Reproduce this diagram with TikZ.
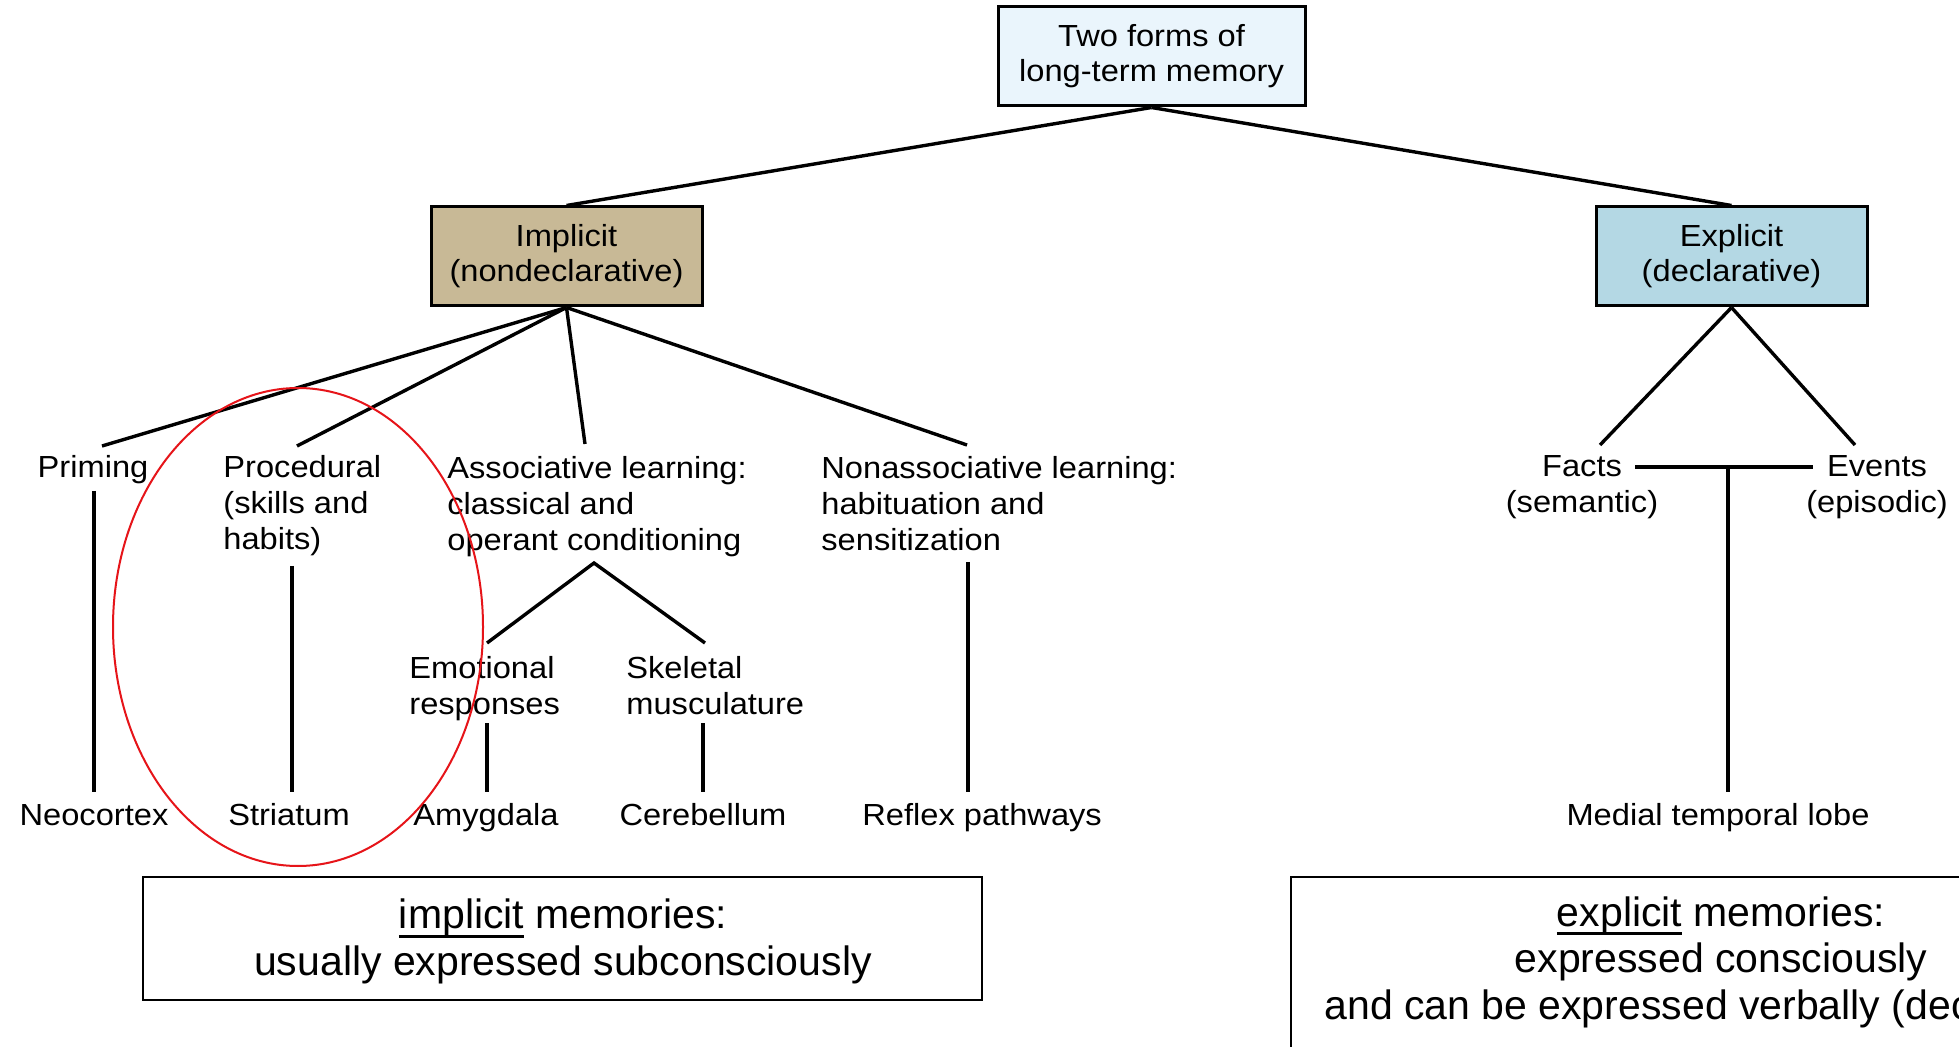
\documentclass[tikz,border=0pt]{standalone}
\usepackage{fontspec}
\setmainfont{Liberation Sans}
\newfontfamily\diagfont{Liberation Sans}[FakeStretch=1.07]
\definecolor{topfill}{RGB}{234,245,252}
\definecolor{implfill}{RGB}{200,185,150}
\definecolor{explfill}{RGB}{180,216,228}
\definecolor{ellred}{RGB}{230,20,25}
\newcommand\myul[1]{\setbox0\hbox{#1}\rlap{\rule[-4.6pt]{\wd0}{1.5pt}}\box0\relax}
\begin{document}
\begin{tikzpicture}[x=0.5pt,y=-0.5pt,
  catbox/.style={draw=black, line width=1.5pt, align=center, inner sep=0pt,
    minimum width=135.5pt, minimum height=49.5pt,
    font=\diagfont\fontsize{15.25pt}{17.5pt}\selectfont},
  lbl/.style={inner sep=0pt, font=\diagfont\fontsize{15.25pt}{18pt}\selectfont},
  conn/.style={line width=1.7pt},
  membox/.style={draw=black, line width=1pt, inner sep=0pt},
  memtext/.style={inner sep=0pt, align=center, font=\fontsize{20.5pt}{23.25pt}\selectfont}
]
\useasboundingbox (0,0) rectangle (1959,1047);
\clip (0,0) rectangle (1959,1047);
\fill[white] (0,0) rectangle (1959,1047);

% category boxes
\node[catbox, fill=topfill, minimum width=153.5pt] (top) at (1151.5,56.5) {Two forms of\\long-term memory};
\node[catbox, fill=implfill] (impl) at (566.5,256.5) {Implicit\\(nondeclarative)};
\node[catbox, fill=explfill] (expl) at (1731.5,256.5) {Explicit\\(declarative)};

% labels (base anchor = baseline of last line)
\node[lbl, anchor=base] (priming) at (93,478) {Priming};
\node[lbl, align=left, anchor=base west] (proc) at (223,550) {Procedural\\(skills and\\habits)};
\node[lbl, align=left, anchor=base west] (assoc) at (447,551) {Associative learning:\\classical and\\operant conditioning};
\node[lbl, align=left, anchor=base west] (nonassoc) at (821,551) {Nonassociative learning:\\habituation and\\sensitization};
\node[lbl, align=left, anchor=base west] (emo) at (409,714) {Emotional\\responses};
\node[lbl, align=left, anchor=base west] (skel) at (626,714) {Skeletal\\musculature};
\node[lbl, align=center, anchor=base] (facts) at (1582,513) {Facts\\(semantic)};
\node[lbl, align=center, anchor=base] (events) at (1877,513) {Events\\(episodic)};

\node[lbl, anchor=base] (neo) at (94,825) {Neocortex};
\node[lbl, anchor=base] (stri) at (289,825) {Striatum};
\node[lbl, anchor=base] (amyg) at (486,825) {Amygdala};
\node[lbl, anchor=base] (cereb) at (703,825) {Cerebellum};
\node[lbl, anchor=base west] (reflex) at (862,825) {Reflex pathways};
\node[lbl, anchor=base] (mtl) at (1718,825) {Medial temporal lobe};

% connector end points
\coordinate (cPrim) at (102,446);
\coordinate (cProc) at (297,446);
\coordinate (cAssoc) at (585,444);
\coordinate (cNon) at (967,445);
\coordinate (cFacts) at (1600,445);
\coordinate (cEvents) at (1855,445);
\coordinate (factsR) at (1635,467);
\coordinate (eventsL) at (1813,467);
\coordinate (tj) at (1728,467);
\coordinate (mtlTop) at (1728,792);
\coordinate (primA) at (94,491);
\coordinate (primB) at (94,792);
\coordinate (procA) at (292,566);
\coordinate (procB) at (292,792);
\coordinate (emoA) at (487,723);
\coordinate (emoB) at (487,792);
\coordinate (skelA) at (703,723);
\coordinate (skelB) at (703,792);
\coordinate (nonA) at (968,562);
\coordinate (nonB) at (968,792);
\coordinate (apex) at (594,563);
\coordinate (triL) at (487,643);
\coordinate (triR) at (705,643);

% connectors
\draw[conn] (top.south) -- (impl.north);
\draw[conn] (top.south) -- (expl.north);
\draw[conn] (impl.south) -- (cPrim);
\draw[conn] (impl.south) -- (cProc);
\draw[conn] (impl.south) -- (cAssoc);
\draw[conn] (impl.south) -- (cNon);
\draw[conn] (expl.south) -- (cFacts);
\draw[conn] (expl.south) -- (cEvents);
\draw[conn] (factsR) -- (eventsL);
\draw[conn] (tj) -- (mtlTop);
\draw[conn] (primA) -- (primB);
\draw[conn] (procA) -- (procB);
\draw[conn] (emoA) -- (emoB);
\draw[conn] (skelA) -- (skelB);
\draw[conn] (nonA) -- (nonB);
\draw[conn] (triL) -- (apex) -- (triR);

% red ellipse
\draw[ellred, line width=1pt] (298,627) ellipse [x radius=185, y radius=239];

% memory boxes
\node[membox, minimum width=419.5pt, minimum height=61.5pt] (impbox) at (562.5,938.5) {};
\node[memtext, anchor=base] (imptext) at (563,975) {\myul{implicit} memories:\\usually expressed subconsciously};
\draw[membox] (1291,877) rectangle (2010,1100);
\node[memtext, anchor=base] (exptext) at (1721,1019) {\myul{explicit} memories:\\expressed consciously\\and can be expressed verbally (declarative)};
\end{tikzpicture}
\end{document}
